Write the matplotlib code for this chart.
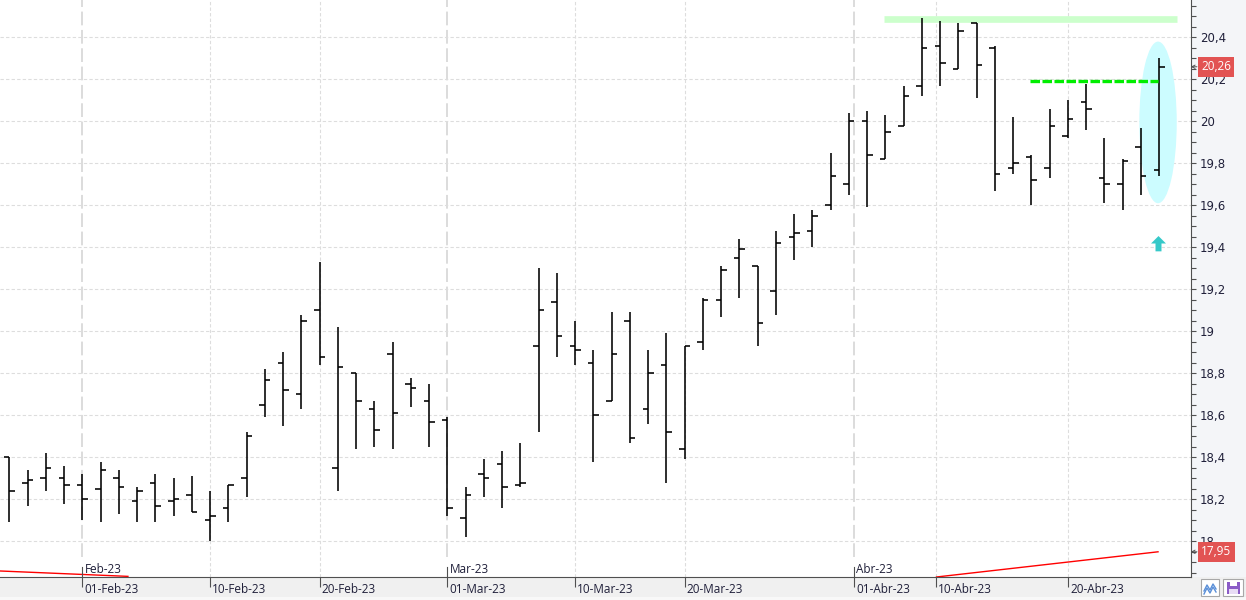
import numpy as np
import matplotlib
matplotlib.use("Agg")
import matplotlib.pyplot as plt
from matplotlib.patches import Ellipse, Rectangle
from matplotlib.lines import Line2D
from matplotlib.ticker import MultipleLocator, FuncFormatter

# OHLC, one bar per trading day (26-Jan-23 .. 27-Apr-23)
opens = [18.40, 18.28, 18.30, 18.30, 18.27, 18.25, 18.30, 18.19, 18.28, 18.19,
         18.22, 18.10, 18.16, 18.30, 18.65, 18.85, 18.70, 19.10, 18.35, 18.80,
         18.63, 18.89, 18.75, 18.67, 18.58, 18.11, 18.32, 18.37, 18.27, 18.93,
         19.14, 18.93, 18.85, 18.67, 19.05, 18.63, 18.84, 18.44, 18.95, 19.15,
         19.35, 19.31, 19.19, 19.45, 19.48, 19.60, 19.70, 20.00, 19.82, 19.98,
         20.17, 20.36, 20.25, 20.47, 20.35, 19.78, 19.83, 19.78, 19.93, 20.09,
         19.73, 19.70, 19.88, 19.77]
highs = [18.40, 18.34, 18.42, 18.36, 18.32, 18.38, 18.34, 18.26, 18.32, 18.30,
         18.31, 18.24, 18.27, 18.52, 18.82, 18.90, 19.08, 19.33, 19.02, 18.80,
         18.67, 18.95, 18.78, 18.75, 18.59, 18.26, 18.39, 18.43, 18.47, 19.30,
         19.28, 19.05, 18.91, 19.09, 19.09, 18.91, 18.99, 18.93, 19.16, 19.31,
         19.44, 19.31, 19.48, 19.56, 19.58, 19.85, 20.04, 20.05, 20.03, 20.17,
         20.49, 20.48, 20.47, 20.47, 20.36, 20.02, 19.84, 20.06, 20.10, 20.18,
         19.92, 19.82, 19.97, 20.30]
lows = [18.09, 18.17, 18.24, 18.18, 18.10, 18.09, 18.13, 18.09, 18.09, 18.12,
        18.14, 18.00, 18.09, 18.21, 18.59, 18.55, 18.63, 18.84, 18.24, 18.44,
        18.45, 18.44, 18.64, 18.45, 18.12, 18.02, 18.21, 18.16, 18.26, 18.52,
        18.88, 18.84, 18.38, 18.67, 18.47, 18.56, 18.28, 18.39, 18.91, 19.07,
        19.16, 18.93, 19.08, 19.34, 19.40, 19.58, 19.65, 19.59, 19.82, 19.98,
        20.12, 20.17, 20.25, 20.11, 19.67, 19.75, 19.60, 19.73, 19.92, 19.96,
        19.61, 19.58, 19.65, 19.74]
closes = [18.24, 18.29, 18.35, 18.27, 18.20, 18.34, 18.26, 18.24, 18.17, 18.20,
          18.14, 18.12, 18.27, 18.50, 18.77, 18.72, 19.05, 18.88, 18.83, 18.67,
          18.53, 18.61, 18.73, 18.57, 18.16, 18.22, 18.30, 18.26, 18.28, 19.10,
          18.98, 18.91, 18.60, 18.89, 18.49, 18.80, 18.52, 18.93, 19.15, 19.29,
          19.39, 19.04, 19.42, 19.47, 19.55, 19.74, 20.00, 19.84, 19.95, 20.12,
          20.35, 20.28, 20.43, 20.27, 19.75, 19.80, 19.72, 19.98, 20.01, 20.06,
          19.70, 19.81, 19.74, 20.26]

# date axis
tick_labels = ["01-Feb-23", "10-Feb-23", "20-Feb-23", "01-Mar-23", "10-Mar-23",
               "20-Mar-23", "01-Abr-23", "10-Abr-23", "20-Abr-23"]
tick_pos = [4, 11, 17, 24, 31, 37, 46.28, 50.76, 58]
month_labels = ["Feb-23", "Mar-23", "Abr-23"]
month_pos = [4, 24, 46.28]

# drawn annotations
resistance = 20.486
resistance_x = [47.93, 63.97]
breakout = 20.19
breakout_x = [55.93, 62.96]
trend_left_x, trend_left_y = [-0.6, 6.5], [17.859, 17.833]
trend_right_x, trend_right_y = [50.8, 62.94], [17.830, 17.95]

W, H = 1246, 600
AX_R, AX_B = 1190.7, 577
fig = plt.figure(figsize=(W / 100, H / 100), dpi=100, facecolor="#f0f0f0")
ax = fig.add_axes([0, (H - AX_B) / H, AX_R / W, AX_B / H])
ax.set_facecolor("white")
plt.rcParams['font.family'] = ['Open Sans', 'DejaVu Sans']

# right price panel background
fig.add_artist(Rectangle((AX_R / W, (H - AX_B) / H), (W - AX_R) / W, AX_B / H,
                         transform=fig.transFigure, fc="#f4f5f8", ec="none", zorder=-1))
fig.add_artist(Rectangle((0, 0), 1, 3 / H, transform=fig.transFigure,
                         fc="#f8f8f8", ec="none", zorder=-1))

x = np.arange(len(opens))
ax.set_xlim(-0.51, 64.73)
ax.set_ylim(17.830, 20.578)

# highlight ellipse on the last bar
ax.add_patch(Ellipse((x[-1] - 0.06, 19.995), 2.05, 0.77, fc="#ccfcff", ec="none", zorder=1))

# bars
ax.vlines(x, lows, highs, color="black", lw=1.15, zorder=2)
ax.hlines(opens, x - 0.3, x, color="black", lw=1.15, zorder=2)
ax.hlines(closes, x, x + 0.3, color="black", lw=1.15, zorder=2)

ax.plot(resistance_x, [resistance] * 2, color="#ccffcc", lw=4.8,
        solid_capstyle="butt", zorder=1.5)
ax.plot(breakout_x, [breakout] * 2, color="#00ee00", lw=2.4,
        ls=(0, (2.85, 0.75)), zorder=3)
ax.plot(trend_left_x, trend_left_y, color="red", lw=1.0, zorder=2)
ax.plot(trend_right_x, trend_right_y, color="red", lw=1.0, zorder=2)

# up arrow under the last bar
arrow = [(-1, 0), (-0.4, 0), (-0.4, -1.05), (0.4, -1.05), (0.4, 0), (1, 0), (0, 1)]
ax.plot([x[-1] - 0.04], [19.421], marker=arrow, ms=11.3, color="#36c9c9",
        mec="none", zorder=3)

# grid
ax.set_axisbelow(True)
ax.grid(axis="y", which="major", color="#dddddd", lw=0.8, ls=(0, (3, 2)))
for p in tick_pos:
    if p in month_pos:
        ax.axvline(p, ymin=20 / AX_B, ymax=1, color="#d2d2d2", lw=1.1,
                   ls=(0, (9, 3)), zorder=0.5)
        ax.axvline(p, ymin=0, ymax=10 / AX_B, color="#505050", lw=0.8, zorder=3)
    else:
        ax.axvline(p, color="#dddddd", lw=0.8, ls=(0, (3, 2)), zorder=0.5)

# axes styling
for s in ["left", "top"]:
    ax.spines[s].set_visible(False)
for s in ["right", "bottom"]:
    ax.spines[s].set_color("#505050")
    ax.spines[s].set_linewidth(0.8)

ax.yaxis.set_major_locator(MultipleLocator(0.2))
ax.yaxis.set_minor_locator(MultipleLocator(0.05))
ax.yaxis.set_major_formatter(FuncFormatter(
    lambda v, pos: f"{v:.1f}".rstrip("0").rstrip(".").replace(".", ",")))
ax.tick_params(axis="y", which="both", left=False, right=True, labelleft=False,
               labelright=True, direction="out", length=3.6, width=0.8,
               color="#505050", labelsize=8.5, labelcolor="#20203a", pad=3)

ax.set_xticks(tick_pos)
ax.set_xticklabels([])
ax.tick_params(axis="x", direction="out", length=7.2, width=0.8, color="#505050")

for p, lab in zip(tick_pos, tick_labels):
    ax.annotate(lab, xy=(p, 0), xycoords=("data", "axes fraction"), xytext=(1.5, -4.5),
                textcoords="offset points", ha="left", va="top", fontsize=8.5,
                color="#20203a", annotation_clip=False)
for p, lab in zip(month_pos, month_labels):
    ax.annotate(lab, xy=(p, 0), xycoords=("data", "axes fraction"), xytext=(1.5, 0.5),
                textcoords="offset points", ha="left", va="bottom", fontsize=8.5,
                color="#20203a", annotation_clip=False)

# price tags on the right axis
for val in [closes[-1], trend_right_y[-1]]:
    ax.annotate(f"{val:.2f}".replace(".", ","), xy=(1, val),
                xycoords=("axes fraction", "data"), xytext=(7.5, 0),
                textcoords="offset points", ha="left", va="center", fontsize=8.5,
                color="white", annotation_clip=False, zorder=5,
                bbox=dict(boxstyle="square,pad=0.28", fc="#e25353", ec="none"))
    ax.annotate("", xy=(1, val), xycoords=("axes fraction", "data"), xytext=(4.5, 0),
                textcoords="offset points", annotation_clip=False,
                arrowprops=dict(arrowstyle="->", color="#505050", lw=0.7,
                                shrinkA=0, shrinkB=0, mutation_scale=6))


# small toolbar icons in the bottom right corner
def box(x0, y0, w, h, **kw):
    fig.add_artist(Rectangle((x0 / W, 1 - (y0 + h) / H), w / W, h / H,
                             transform=fig.transFigure, **kw))


box(1201, 579, 18, 17, fc="white", ec="#a8a8a8", lw=0.8)
box(1223, 579, 20, 17, fc="white", ec="#a8a8a8", lw=0.8)
zx = np.array([1204, 1207, 1210, 1213, 1216])
fig.add_artist(Line2D(zx / W, 1 - np.array([591, 585, 590, 584, 589]) / H,
                      transform=fig.transFigure, color="#5a8fd8", lw=1.0))
fig.add_artist(Line2D(zx / W, 1 - np.array([594, 588, 593, 587, 592]) / H,
                      transform=fig.transFigure, color="#5a8fd8", lw=1.0))
box(1227, 582, 13, 12, fc="#8b5cc7", ec="none")
box(1230, 582, 7, 4, fc="white", ec="none")
box(1229, 589, 9, 5, fc="#e8dcf5", ec="none")

fig.savefig("out.png", dpi=100, facecolor=fig.get_facecolor())
